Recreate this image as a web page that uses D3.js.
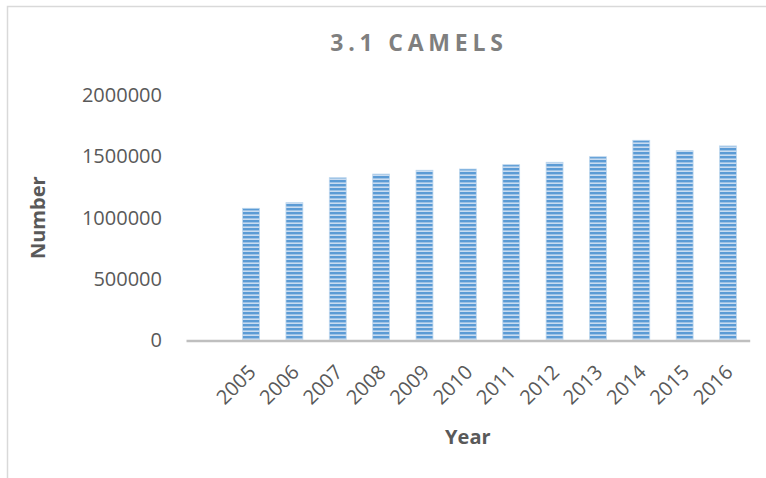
<!DOCTYPE html>
<html>
<head>
<meta charset="utf-8">
<script src="https://cdn.jsdelivr.net/npm/d3@7"></script>
<style>
  html, body { margin: 0; padding: 0; background: #fff; }
  svg { display: block; font-family: "Open Sans", "Noto Sans", sans-serif; }
</style>
</head>
<body>
<svg id="chart" width="766" height="478"></svg>
<script>
// Camel population by year
const years = ["2005", "2006", "2007", "2008", "2009", "2010", "2011", "2012", "2013", "2014", "2015", "2016"];
const camels = [1077000, 1123000, 1326000, 1356000, 1387000, 1397000, 1432000, 1452000, 1497000, 1631000, 1546000, 1585000];
// The category axis keeps one blank slot ahead of the first year
const categories = [""].concat(years);
const yTicks = [0, 500000, 1000000, 1500000, 2000000];
const titleText = "3.1 CAMELS";
const xTitle = "Year";
const yTitle = "Number";

const svg = d3.select("#chart");
const W = 766, H = 478;
const plot = { left: 186, right: 749.7, top: 95, bottom: 340.5 };

// chart frame (top and left edges visible)
svg.append("path")
  .attr("d", `M7.5,${H} V6.5 H${W}`)
  .attr("fill", "none")
  .attr("stroke", "#d9d9d9")
  .attr("stroke-width", 1.5);

// striped fill for the bars
const defs = svg.append("defs");
const pat = defs.append("pattern")
  .attr("id", "stripes")
  .attr("patternUnits", "userSpaceOnUse")
  .attr("width", 8).attr("height", 4);
pat.append("rect").attr("width", 8).attr("height", 4).attr("fill", "#c9dcf1");
pat.append("rect").attr("width", 8).attr("height", 2.4).attr("fill", "#5b9bd5");

const x = d3.scaleBand()
  .domain(categories)
  .range([plot.left, plot.right])
  .paddingInner(0.61)
  .paddingOuter(0.305);

const y = d3.scaleLinear()
  .domain([0, 2000000])
  .range([plot.bottom, plot.top]);

// y axis labels (no axis line, no ticks)
const yAxis = d3.axisLeft(y)
  .tickValues(yTicks)
  .tickFormat(d3.format("d"))
  .tickSize(0)
  .tickPadding(24);
const gy = svg.append("g")
  .attr("transform", `translate(${plot.left},0)`)
  .call(yAxis);
gy.select(".domain").remove();
gy.selectAll("text")
  .attr("fill", "#595959")
  .style("font-size", "20px")
  .style("font-family", "'Open Sans', sans-serif");

// bars
const data = years.map((yr, i) => ({ year: yr, value: camels[i] }));
svg.append("g")
  .selectAll("rect")
  .data(data)
  .join("rect")
  .attr("x", d => x(d.year))
  .attr("y", d => y(d.value))
  .attr("width", x.bandwidth())
  .attr("height", d => y(0) - y(d.value))
  .attr("fill", "url(#stripes)")
  .attr("stroke", "#bdd7ee")
  .attr("stroke-width", 0.8);

// x axis baseline and rotated year labels
const xAxis = d3.axisBottom(x).tickSize(0).tickPadding(0);
const gx = svg.append("g")
  .attr("transform", `translate(0,${plot.bottom})`)
  .call(xAxis);
gx.select(".domain")
  .attr("stroke", "#bfbfbf")
  .attr("stroke-width", 2.5);
gx.selectAll(".tick text")
  .attr("fill", "#595959")
  .style("font-size", "20px")
  .style("font-family", "'Open Sans', sans-serif")
  .attr("text-anchor", "end")
  .attr("dy", null)
  .attr("y", null)
  .attr("transform", `translate(6,33) rotate(-45)`);

// titles
svg.append("text")
  .attr("x", 419).attr("y", 51)
  .attr("text-anchor", "middle")
  .attr("fill", "#7f7f7f")
  .style("font-size", "23px")
  .style("font-weight", "bold")
  .style("letter-spacing", "4.8px")
  .text(titleText);

svg.append("text")
  .attr("x", (plot.left + plot.right) / 2).attr("y", 444)
  .attr("text-anchor", "middle")
  .attr("fill", "#595959")
  .style("font-size", "20px")
  .style("font-weight", "bold")
  .text(xTitle);

svg.append("text")
  .attr("transform", `translate(45,${(plot.top + plot.bottom) / 2}) rotate(-90)`)
  .attr("text-anchor", "middle")
  .attr("fill", "#595959")
  .style("font-size", "20px")
  .style("font-weight", "bold")
  .text(yTitle);
</script>
</body>
</html>
